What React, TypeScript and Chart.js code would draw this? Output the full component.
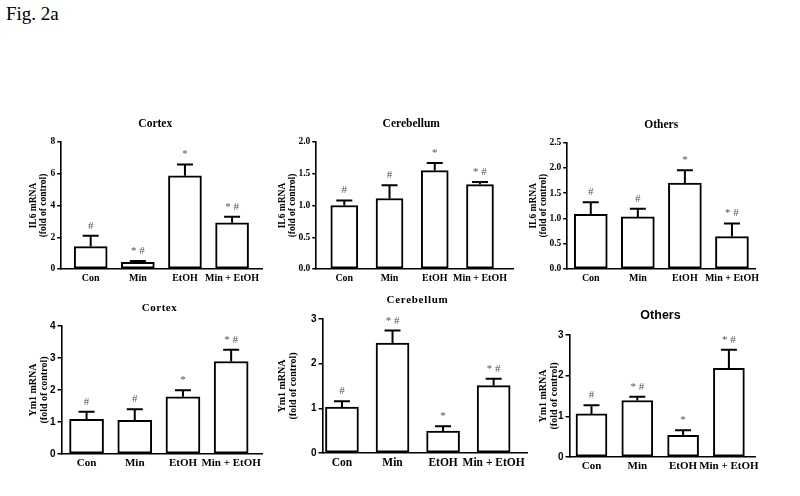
import React, { useEffect, useRef } from "react";
import { Chart, registerables } from "chart.js";

Chart.register(...registerables);

const categories = ["Con", "Min", "EtOH", "Min + EtOH"];

const il6CortexMean = [1.41, 0.42, 5.87, 2.91];
const il6CortexErr = [0.68, 0.09, 0.72, 0.38];
const il6CortexSig = ["#", "* #", "*", "* #"];

const il6CerebellumMean = [1.0, 1.11, 1.55, 1.33];
const il6CerebellumErr = [0.08, 0.21, 0.12, 0.04];
const il6CerebellumSig = ["#", "#", "*", "* #"];

const il6OthersMean = [1.08, 1.03, 1.7, 0.64];
const il6OthersErr = [0.24, 0.16, 0.25, 0.26];
const il6OthersSig = ["#", "#", "*", "* #"];

const ym1CortexMean = [1.08, 1.05, 1.79, 2.89];
const ym1CortexErr = [0.24, 0.35, 0.2, 0.37];
const ym1CortexSig = ["#", "#", "*", "* #"];

const ym1CerebellumMean = [1.03, 2.46, 0.49, 1.51];
const ym1CerebellumErr = [0.13, 0.28, 0.11, 0.15];
const ym1CerebellumSig = ["#", "* #", "*", "* #"];

const ym1OthersMean = [1.06, 1.39, 0.53, 2.18];
const ym1OthersErr = [0.21, 0.09, 0.13, 0.46];
const ym1OthersSig = ["#", "* #", "*", "* #"];

const il6Title = ["IL6 mRNA", "(fold of control)"];
const ym1Title = ["Ym1 mRNA", "(fold of control)"];

const SERIF = '"Liberation Serif", "Times New Roman", serif';
const SANS = '"Liberation Sans", Arial, sans-serif';

type Layout = {
  x0: number; x1: number; yt: number; yb: number;
  titleCx: number; titleCy: number; titleFont: string; titleSpacing: string;
  yTitleCx: number; yTitleSize: number;
  xMin: number; xMax: number; barW: number;
  tickFamily: string; tickSize: number; catSize: number;
};

type PanelDef = {
  title: string; yTitle: string[];
  mean: number[]; err: number[]; sig: string[];
  yMax: number; yStep: number; decimals: number;
  L: Layout;
};

const panels: PanelDef[] = [
  {
    title: "Cortex", yTitle: il6Title, mean: il6CortexMean, err: il6CortexErr, sig: il6CortexSig,
    yMax: 8, yStep: 2, decimals: 0,
    L: { x0: 61, x1: 262, yt: 142, yb: 269, titleCx: 155, titleCy: 124, titleFont: `bold 11.5px ${SERIF}`, titleSpacing: "0px",
      yTitleCx: 33, yTitleSize: 9.5, xMin: -0.625, xMax: 3.635, barW: 33, tickFamily: SERIF, tickSize: 9.5, catSize: 10 },
  },
  {
    title: "Cerebellum", yTitle: il6Title, mean: il6CerebellumMean, err: il6CerebellumErr, sig: il6CerebellumSig,
    yMax: 2, yStep: 0.5, decimals: 1,
    L: { x0: 316, x1: 513, yt: 142, yb: 269, titleCx: 411, titleCy: 124, titleFont: `bold 11.5px ${SERIF}`, titleSpacing: "0px",
      yTitleCx: 282, yTitleSize: 9.5, xMin: -0.62, xMax: 3.73, barW: 27, tickFamily: SERIF, tickSize: 9.5, catSize: 10 },
  },
  {
    title: "Others", yTitle: il6Title, mean: il6OthersMean, err: il6OthersErr, sig: il6OthersSig,
    yMax: 2.5, yStep: 0.5, decimals: 1,
    L: { x0: 567, x1: 755, yt: 142, yb: 269, titleCx: 661, titleCy: 124.5, titleFont: `bold 11.5px ${SERIF}`, titleSpacing: "0px",
      yTitleCx: 533, yTitleSize: 9.5, xMin: -0.5, xMax: 3.49, barW: 33, tickFamily: SERIF, tickSize: 9.5, catSize: 10 },
  },
  {
    title: "Cortex", yTitle: ym1Title, mean: ym1CortexMean, err: ym1CortexErr, sig: ym1CortexSig,
    yMax: 4, yStep: 1, decimals: 0,
    L: { x0: 61, x1: 262, yt: 326, yb: 454, titleCx: 159, titleCy: 308, titleFont: `bold 11px ${SERIF}`, titleSpacing: "0.5px",
      yTitleCx: 33, yTitleSize: 10, xMin: -0.52, xMax: 3.64, barW: 34, tickFamily: SANS, tickSize: 10, catSize: 11 },
  },
  {
    title: "Cerebellum", yTitle: ym1Title, mean: ym1CerebellumMean, err: ym1CerebellumErr, sig: ym1CerebellumSig,
    yMax: 3, yStep: 1, decimals: 0,
    L: { x0: 322, x1: 527, yt: 319, yb: 453, titleCx: 417, titleCy: 300, titleFont: `bold 11px ${SERIF}`, titleSpacing: "0.7px",
      yTitleCx: 282, yTitleSize: 10, xMin: -0.385, xMax: 3.66, barW: 33, tickFamily: SANS, tickSize: 10, catSize: 11.5 },
  },
  {
    title: "Others", yTitle: ym1Title, mean: ym1OthersMean, err: ym1OthersErr, sig: ym1OthersSig,
    yMax: 3, yStep: 1, decimals: 0,
    L: { x0: 569, x1: 755, yt: 335, yb: 457, titleCx: 660, titleCy: 316, titleFont: `bold 12.5px ${SANS}`, titleSpacing: "0px",
      yTitleCx: 543, yTitleSize: 10, xMin: -0.48, xMax: 3.57, barW: 31, tickFamily: SANS, tickSize: 10, catSize: 11 },
  },
];

const X_AXIS_H = 18;
const RIGHT_PAD = 30;

function Panel({ def }: { def: PanelDef }) {
  const ref = useRef<HTMLCanvasElement | null>(null);
  const L = def.L;
  const yLineH = Math.round(def.L.yTitleSize * 1.1 * 10) / 10;
  const left = L.yTitleCx - yLineH / 2;
  const top = L.titleCy - 12;
  const width = L.x1 + RIGHT_PAD - left;
  const height = L.yb + X_AXIS_H + 2 - top;

  useEffect(() => {
    if (!ref.current) return;
    const { mean, err, sig } = def;
    const extras = {
      id: "extras",
      afterDatasetsDraw(chart: any) {
        const ctx = chart.ctx as CanvasRenderingContext2D;
        const meta = chart.getDatasetMeta(0);
        const ys = chart.scales.y;
        ctx.save();
        meta.data.forEach((bar: any, i: number) => {
          const x = bar.x;
          const yv = ys.getPixelForValue(mean[i]);
          const ye = ys.getPixelForValue(mean[i] + err[i]);
          ctx.strokeStyle = "#000";
          ctx.lineWidth = 2;
          ctx.beginPath();
          ctx.moveTo(x, yv);
          ctx.lineTo(x, ye);
          ctx.moveTo(x - 8, ye);
          ctx.lineTo(x + 8, ye);
          ctx.stroke();
          ctx.fillStyle = "#555";
          ctx.font = `11px ${SERIF}`;
          ctx.textAlign = "center";
          ctx.textBaseline = "middle";
          ctx.fillText(sig[i], x, ye - 10);
        });
        ctx.fillStyle = "#000";
        ctx.font = L.titleFont;
        (ctx as any).letterSpacing = L.titleSpacing;
        ctx.textAlign = "center";
        ctx.textBaseline = "middle";
        ctx.fillText(def.title, L.titleCx - left, L.titleCy - top);
        ctx.restore();
      },
    };

    const chart = new Chart(ref.current, {
      type: "bar",
      data: {
        datasets: [
          {
            data: mean.map((v, i) => ({ x: i, y: v })),
            backgroundColor: "#fff",
            borderColor: "#000",
            borderWidth: 2,
            borderSkipped: false,
            barThickness: L.barW,
          } as any,
        ],
      },
      options: {
        responsive: false,
        animation: false,
        events: [],
        layout: { padding: { top: L.yt - top, right: RIGHT_PAD, bottom: 2, left: 0 } },
        plugins: { legend: { display: false }, title: { display: false }, tooltip: { enabled: false } },
        scales: {
          x: {
            type: "linear",
            offset: false,
            min: L.xMin,
            max: L.xMax,
            afterBuildTicks: (s: any) => {
              s.ticks = categories.map((_, i) => ({ value: i }));
            },
            afterFit: (s: any) => {
              s.height = X_AXIS_H;
            },
            grid: { display: true, drawOnChartArea: false, drawTicks: false },
            border: { display: true, color: "#000", width: 1.6 },
            ticks: {
              padding: 3,
              color: "#000",
              maxRotation: 0,
              autoSkip: false,
              font: { family: SERIF, size: L.catSize, weight: "bold" },
              callback: (_v: any, idx: number) => categories[idx],
            },
          },
          y: {
            min: 0,
            max: def.yMax,
            afterFit: (s: any) => {
              s.width = L.x0 - left;
            },
            grid: { display: true, drawOnChartArea: false, drawTicks: true, tickLength: 4, color: "#000", lineWidth: 1.5 },
            border: { display: true, color: "#000", width: 1.6 },
            ticks: {
              stepSize: def.yStep,
              padding: 2,
              color: "#000",
              font: { family: L.tickFamily, size: L.tickSize, weight: "bold" },
              callback: (v: any) => Number(v).toFixed(def.decimals),
            },
            title: {
              display: true,
              text: def.yTitle,
              color: "#000",
              padding: { top: 0, bottom: 0 },
              font: { family: SERIF, size: L.yTitleSize, weight: "bold", lineHeight: 1.1 },
            },
          },
        },
      } as any,
      plugins: [extras],
    });
    return () => chart.destroy();
  }, []);

  return (
    <canvas
      ref={ref}
      width={width}
      height={height}
      style={{ position: "absolute", left, top, width, height }}
    />
  );
}

export default function App() {
  return (
    <div style={{ position: "absolute", left: 0, top: 0, width: 800, height: 496, background: "#fff", overflow: "hidden" }}>
      <div
        style={{
          position: "absolute",
          left: 6,
          top: 4,
          fontFamily: SERIF,
          fontSize: 19,
          lineHeight: "19px",
          color: "#000",
        }}
      >
        Fig. 2a
      </div>
      {panels.map((p, i) => (
        <Panel key={i} def={p} />
      ))}
    </div>
  );
}
